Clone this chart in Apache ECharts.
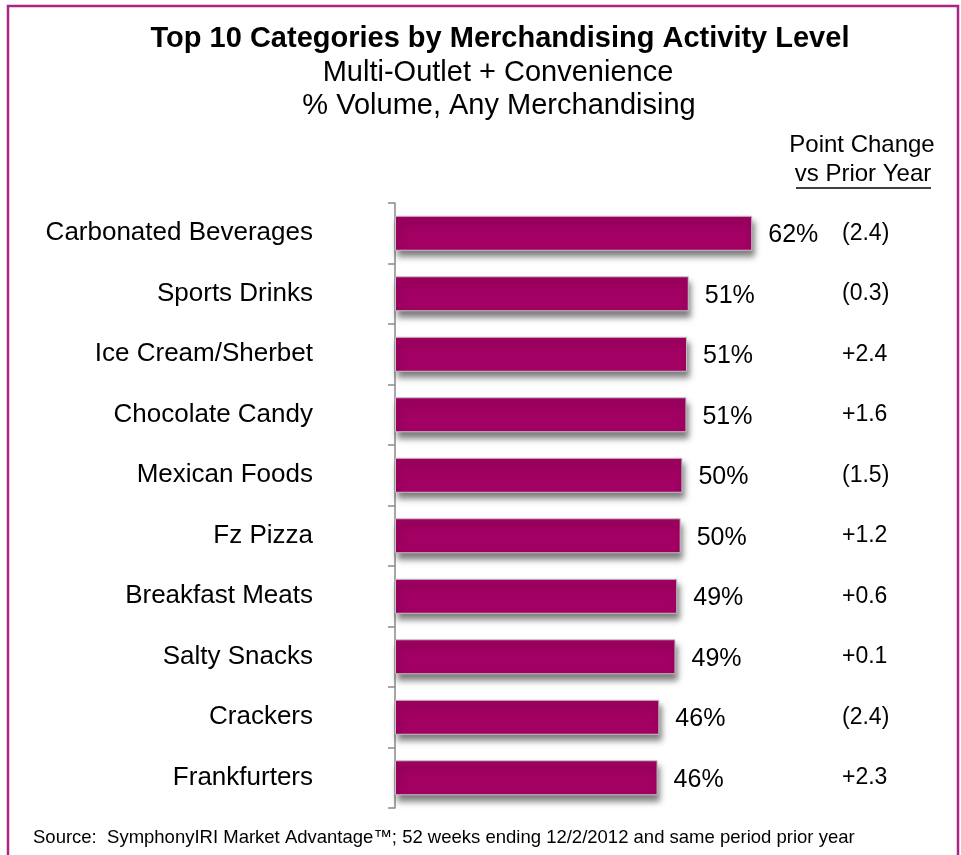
<!DOCTYPE html>
<html>
<head>
<meta charset="utf-8">
<script src="https://cdn.jsdelivr.net/npm/echarts@6/dist/echarts.min.js"></script>
<style>
  html, body { margin: 0; padding: 0; background: #fff; }
  #chart { width: 961px; height: 855px; }
</style>
</head>
<body>
<div id="chart"></div>
<script>
// data
var categories = [
  "Carbonated Beverages", "Sports Drinks", "Ice Cream/Sherbet", "Chocolate Candy",
  "Mexican Foods", "Fz Pizza", "Breakfast Meats", "Salty Snacks", "Crackers", "Frankfurters"
];
var volumePct = [61.9, 50.9, 50.6, 50.5, 49.8, 49.5, 48.9, 48.6, 45.8, 45.5];
var pointChange = ["(2.4)", "(0.3)", "+2.4", "+1.6", "(1.5)", "+1.2", "+0.6", "+0.1", "(2.4)", "+2.3"];

var font = "Liberation Sans, Arial, sans-serif";
var barColor = "#a20063";

var chart = echarts.init(document.getElementById("chart"));
var option = {
  backgroundColor: "#fff",
  animation: false,
  grid: { left: 395, top: 203, width: 404, height: 605 },
  xAxis: { type: "value", min: 0, max: 70, show: false },
  yAxis: [
    {
      type: "category",
      inverse: true,
      data: categories,
      axisLine: { show: true, lineStyle: { color: "#8a8a8a", width: 1.5 } },
      axisTick: { show: true, alignWithLabel: false, length: 7, lineStyle: { color: "#8a8a8a", width: 1.5 } },
      axisLabel: { margin: 82, fontSize: 26, color: "#000", fontFamily: font }
    },
    {
      type: "category",
      inverse: true,
      position: "right",
      data: pointChange,
      axisLine: { show: false },
      axisTick: { show: false },
      axisLabel: { margin: 43, fontSize: 23, color: "#000", fontFamily: font }
    }
  ],
  series: [
    {
      type: "bar",
      data: volumePct,
      barWidth: 35,
      itemStyle: {
        color: barColor,
        borderColor: "#c4c4c4",
        borderWidth: 1,
        shadowColor: "rgba(0,0,0,0.5)",
        shadowBlur: 6,
        shadowOffsetX: 2,
        shadowOffsetY: 6
      },
      label: {
        show: true,
        position: "right",
        distance: 16,
        fontSize: 25,
        color: "#000",
        fontFamily: font,
        offset: [0, 2],
        formatter: function (p) { return Math.round(p.value) + "%"; }
      }
    }
  ],
  graphic: [
    // 外框
    { type: "rect", shape: { x: 8, y: 6, width: 950, height: 900 },
      style: { fill: "none", stroke: "#ad2487", lineWidth: 2.5 } },
    { type: "text", x: 500, y: 39,
      style: { text: "Top 10 Categories by Merchandising Activity Level", font: "bold 29px " + font,
        fill: "#000", textAlign: "center", textVerticalAlign: "middle" } },
    { type: "text", x: 498, y: 73,
      style: { text: "Multi-Outlet + Convenience", font: "29px " + font,
        fill: "#000", textAlign: "center", textVerticalAlign: "middle" } },
    { type: "text", x: 499, y: 106,
      style: { text: "% Volume, Any Merchandising", font: "29px " + font,
        fill: "#000", textAlign: "center", textVerticalAlign: "middle" } },
    { type: "text", x: 862, y: 145,
      style: { text: "Point Change", font: "24px " + font,
        fill: "#000", textAlign: "center", textVerticalAlign: "middle" } },
    { type: "text", x: 863, y: 174,
      style: { text: "vs Prior Year", font: "24px " + font,
        fill: "#000", textAlign: "center", textVerticalAlign: "middle" } },
    { type: "line", shape: { x1: 796, y1: 188, x2: 931, y2: 188 },
      style: { stroke: "#000", lineWidth: 1.5 } },
    { type: "text", x: 33, y: 838,
      style: { text: "Source:  SymphonyIRI Market Advantage\u2122; 52 weeks ending 12/2/2012 and same period prior year",
        font: "18.5px " + font, fill: "#000", textAlign: "left", textVerticalAlign: "middle" } }
  ]
};
option && chart.setOption(option);
</script>
</body>
</html>
